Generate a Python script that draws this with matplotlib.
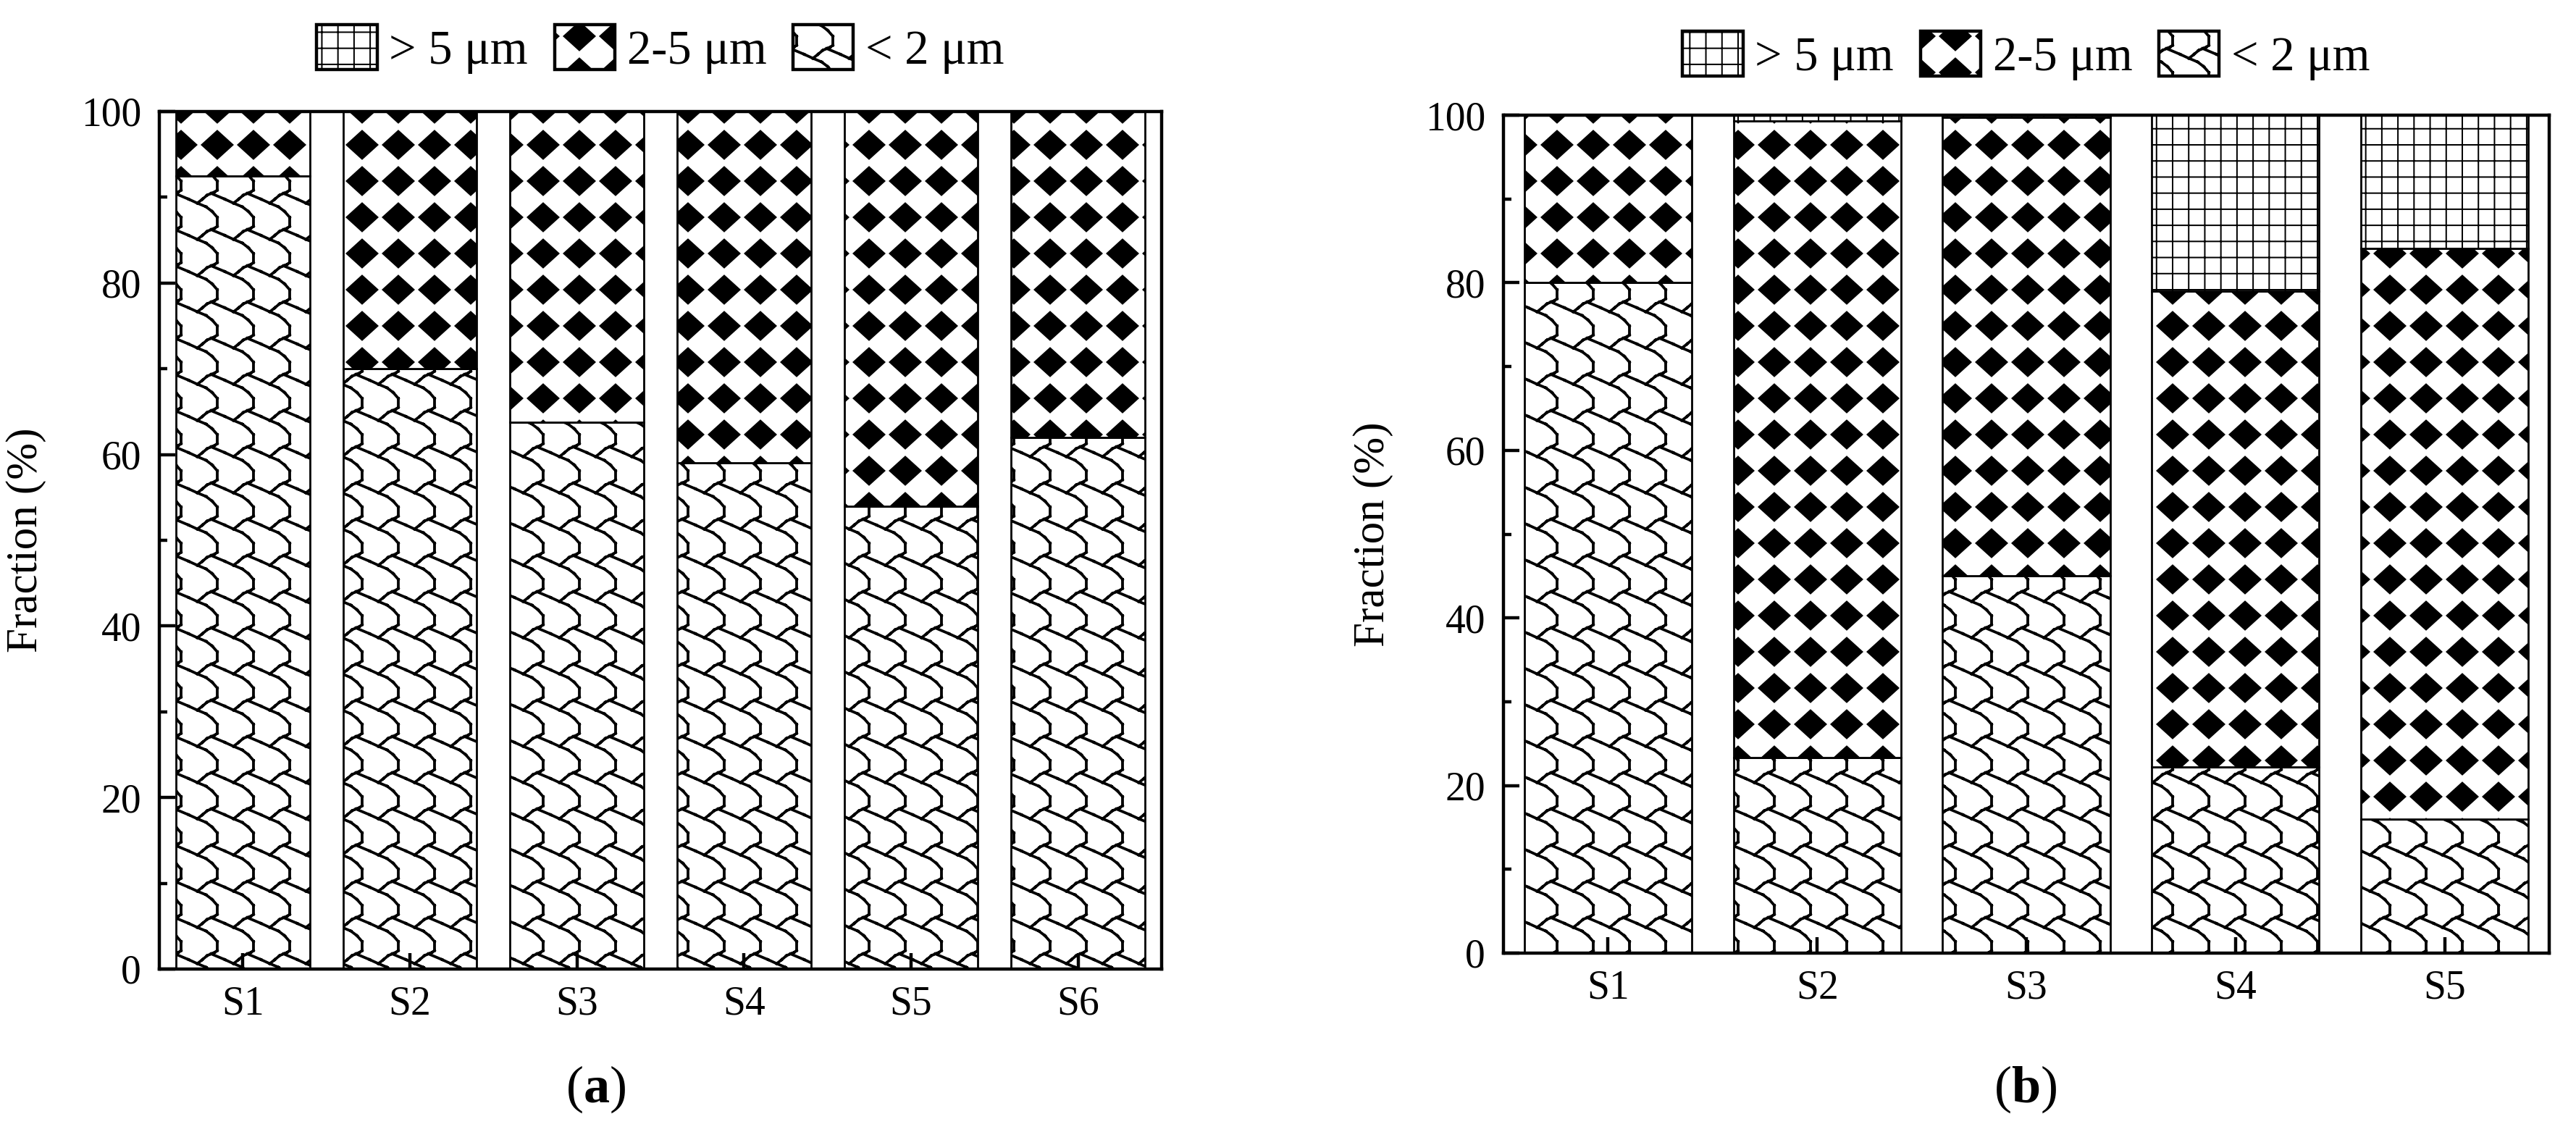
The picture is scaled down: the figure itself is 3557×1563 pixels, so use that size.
import numpy as np
import matplotlib
matplotlib.use("Agg")
import matplotlib.pyplot as plt
import matplotlib.hatch as mhatch
from matplotlib.path import Path
from matplotlib.ticker import MultipleLocator

# ---------------- data ----------------
cats_a = ["S1", "S2", "S3", "S4", "S5", "S6"]
fine_a = [92.5, 70.0, 63.8, 59.0, 54.0, 62.0]      # < 2 um
mid_a = [7.5, 30.0, 36.2, 41.0, 46.0, 38.0]        # 2-5 um
coarse_a = [0.0, 0.0, 0.0, 0.0, 0.0, 0.0]          # > 5 um

cats_b = ["S1", "S2", "S3", "S4", "S5"]
fine_b = [80.0, 23.3, 45.0, 22.2, 16.0]
mid_b = [20.0, 76.0, 54.7, 56.8, 68.1]
coarse_b = [0.0, 0.7, 0.3, 21.0, 15.9]

legend_labels = ["> 5 μm", "2-5 μm", "< 2 μm"]
yticks = [0, 20, 40, 60, 80, 100]

# ---------------- custom hatch patterns ----------------
def _thick_polyline(pts, hw):
    verts, codes = [], []
    pts = np.asarray(pts, float)
    for p0, p1 in zip(pts[:-1], pts[1:]):
        d = p1 - p0
        L = np.hypot(*d)
        if L == 0:
            continue
        d = d / L
        n = np.array([-d[1], d[0]]) * hw
        e = d * hw
        a = p0 - e
        b = p1 + e
        verts += [a - n, b - n, b + n, a + n, a - n]
        codes += [Path.MOVETO, Path.LINETO, Path.LINETO, Path.LINETO, Path.CLOSEPOLY]
    return verts, codes


class _Base(mhatch.HatchPatternBase):
    key = None

    def __init__(self, hatch, density):
        self.on = self.key in hatch
        if self.on:
            v, c = self._build()
            self.v = np.asarray(v, float)
            self.c = np.asarray(c, dtype=Path.code_type)
            self.num_vertices = len(self.v)
        else:
            self.num_vertices = 0

    def set_vertices_and_codes(self, vertices, codes):
        vertices[:] = self.v
        codes[:] = self.c


class GridHatch(_Base):
    key = "+"
    N = 9

    def _build(self):
        v, c = [], []
        for k in range(self.N + 1):
            t = k / self.N
            v += [(t, 0), (t, 1), (0, t), (1, t)]
            c += [Path.MOVETO, Path.LINETO, Path.MOVETO, Path.LINETO]
        return v, c


class DiamondHatch(_Base):
    key = "*"
    N = 4
    a = 0.43
    b = 0.39

    def _build(self):
        v, c = [], []
        N = self.N
        for i in range(N + 1):
            for j in range(N + 1):
                cx, cy = i / N, j / N
                a, b = self.a / N, self.b / N
                v += [(cx - a, cy), (cx, cy - b), (cx + a, cy), (cx, cy + b), (cx - a, cy)]
                c += [Path.MOVETO, Path.LINETO, Path.LINETO, Path.LINETO, Path.CLOSEPOLY]
        return v, c


class ScaleHatch(_Base):
    key = "o"
    N = 4
    hw = 0.0045

    def _build(self):
        bar = [(0, 0), (0, 0.25), (-0.07, 0.30), (-0.17, 0.34)]
        l1 = [(-0.17, 0.34), (0.21, 0.50), (0.45, 0.61), (0.69, 0.71), (0.86, 0.84), (1.0, 1.0)]
        l2 = [(-0.17, 0.34), (-0.28, 0.39), (-0.41, 0.50), (-0.55, 0.61)]
        v, c = [], []
        N = self.N
        for i in range(-1, N + 2):
            for j in range(-1, N + 2):
                for line in (bar, l1, l2):
                    pts = [((i + u) / N, 1 - (j + w) / N) for u, w in line]
                    vv, cc = _thick_polyline(pts, self.hw)
                    v += vv
                    c += cc
        return v, c


mhatch._hatch_types = [GridHatch, DiamondHatch, ScaleHatch]

# ---------------- style ----------------
plt.rcParams["font.family"] = ["Liberation Serif", "DejaVu Serif"]
plt.rcParams["mathtext.fontset"] = "custom"
plt.rcParams["mathtext.rm"] = "Liberation Serif"
plt.rcParams["mathtext.bf"] = "Liberation Serif:bold"
plt.rcParams["hatch.linewidth"] = 0.72
plt.rcParams["hatch.color"] = "black"

FS = 20
FS_LAB = 22
FS_LEG = 24
SPINE_LW = 1.6

fig = plt.figure(figsize=(3557 / 200, 1563 / 200), dpi=200)

ax_a = fig.add_axes([220 / 3557, 1 - 1338 / 1563, 1384 / 3557, 1184 / 1563])
ax_b = fig.add_axes([2076 / 3557, 1 - 1316 / 1563, 1444 / 3557, 1157 / 1563])


def draw_panel(ax, cats, fine, mid, coarse, leg_y, ylab_x):
    x = np.arange(1, len(cats) + 1)
    kw = dict(width=0.8, color="white", edgecolor="black", linewidth=1.0)
    b1 = ax.bar(x, fine, hatch="o", **kw)
    b2 = ax.bar(x, mid, bottom=fine, hatch="*", **kw)
    b3 = ax.bar(x, coarse, bottom=np.add(fine, mid), hatch="+", **kw)
    ax.set_xlim(0.5, len(cats) + 0.5)
    ax.set_ylim(0, 100)
    ax.set_xticks(x)
    ax.set_xticklabels(cats)
    ax.set_yticks(yticks)
    ax.yaxis.set_minor_locator(MultipleLocator(10))
    ax.tick_params(axis="both", which="major", direction="in", length=8,
                   width=SPINE_LW, labelsize=FS, pad=8)
    ax.tick_params(axis="y", which="minor", direction="in", length=4, width=SPINE_LW)
    ax.tick_params(axis="x", which="minor", bottom=False)
    ax.tick_params(axis="y", which="major", pad=9)
    for s in ax.spines.values():
        s.set_linewidth(SPINE_LW)
    ax.set_ylabel("Fraction (%)", fontsize=FS_LAB)
    ax.yaxis.set_label_coords(ylab_x, 0.5)
    leg = ax.legend([b3, b2, b1], legend_labels, loc="center",
                    bbox_to_anchor=(0.5, leg_y), ncol=3, frameon=False,
                    fontsize=FS_LEG, handlelength=1.25, handleheight=1.05,
                    handletextpad=0.25, columnspacing=0.55, borderpad=0.2)
    for h in leg.legend_handles:
        h.set_linewidth(1.6)
    return leg


draw_panel(ax_a, cats_a, fine_a, mid_a, coarse_a, 1 + 86 / 1184, -0.113)
draw_panel(ax_b, cats_b, fine_b, mid_b, coarse_b, 1 + 82 / 1157, -0.105)

fig.text(823 / 3557, 1 - 1504 / 1563, r"($\mathbf{a}$)", fontsize=26,
         ha="center", va="center")
fig.text(2797 / 3557, 1 - 1504 / 1563, r"($\mathbf{b}$)", fontsize=26,
         ha="center", va="center")

fig.savefig("out.png", dpi=200)
